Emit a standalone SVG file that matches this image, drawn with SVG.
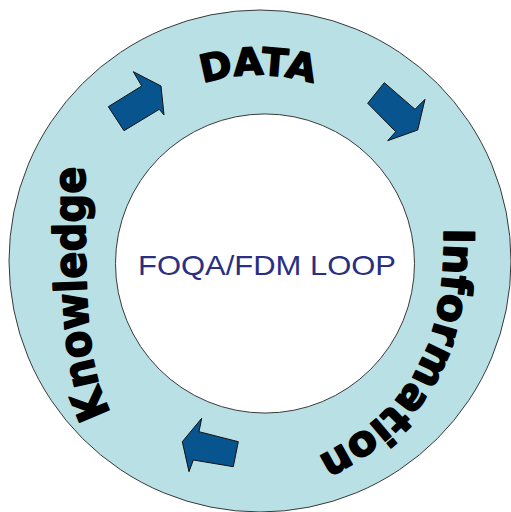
<svg xmlns="http://www.w3.org/2000/svg" width="511" height="512" viewBox="0 0 511 512">
<style>
.ring{fill:#b9e1e5;stroke:#3a3a3a;stroke-width:1;fill-rule:evenodd}
.arrow{fill:#07548f;stroke:#111;stroke-width:1;stroke-linejoin:miter}
.big{font-family:"DejaVu Sans","Liberation Sans",sans-serif;font-weight:bold;fill:#000;stroke:#000;stroke-width:1.6;stroke-linejoin:round}
.center{font-family:"Liberation Sans",Arial,sans-serif;fill:#2b2f82}
</style>
<defs>
<path id="pData" d="M 128.6 128.6 A 183 183 0 0 1 387.4 128.6" fill="none"/>
<path id="pInfo" d="M 444 206 L 444 226 C 445 330 424 404 316 458 L 298 467" fill="none"/>
<path id="pKnow" d="M 122.2 431.2 L 112 414 C 86 370 85 300 85 165 L 85 145" fill="none"/>
</defs>
<rect width="511" height="512" fill="#fff"/>
<g id="ring">
<path class="ring" d="M 9 261 A 251 251 0 1 1 511 261 A 251 251 0 1 1 9 261 Z M 115.5 263.5 A 149.5 149.5 0 1 0 414.5 263.5 A 149.5 149.5 0 1 0 115.5 263.5 Z"/>
</g>
<g id="center-label">
<text class="center" x="138" y="275" font-size="28" textLength="258" lengthAdjust="spacingAndGlyphs">FOQA/FDM LOOP</text>
</g>
<g id="data">
<text class="big" font-size="38"><textPath href="#pData" startOffset="50%" text-anchor="middle" textLength="112" lengthAdjust="spacingAndGlyphs">DATA</textPath></text>
</g>
<g id="information">
<text class="big" font-size="42"><textPath href="#pInfo" startOffset="50%" text-anchor="middle" textLength="280" lengthAdjust="spacingAndGlyphs">Information</textPath></text>
</g>
<g id="knowledge">
<text class="big" font-size="44"><textPath href="#pKnow" startOffset="50%" text-anchor="middle" textLength="250" lengthAdjust="spacingAndGlyphs">Knowledge</textPath></text>
</g>
<g id="connectors">
<polygon class="arrow" points="108.3,106.7 141.7,86 133.3,71.7 161,86 164,115 159.3,109.3 124,130.7"/>
<polygon class="arrow" points="384.3,82.7 415,109.3 425,99.3 417.7,130 387.7,140.7 395.7,131.7 367.7,103.3"/>
<polygon class="arrow" points="201.7,418.3 199,431.7 238.3,441.7 233.3,466.7 193.3,460 189,471.7 182.3,441.7"/>
</g>
</svg>
